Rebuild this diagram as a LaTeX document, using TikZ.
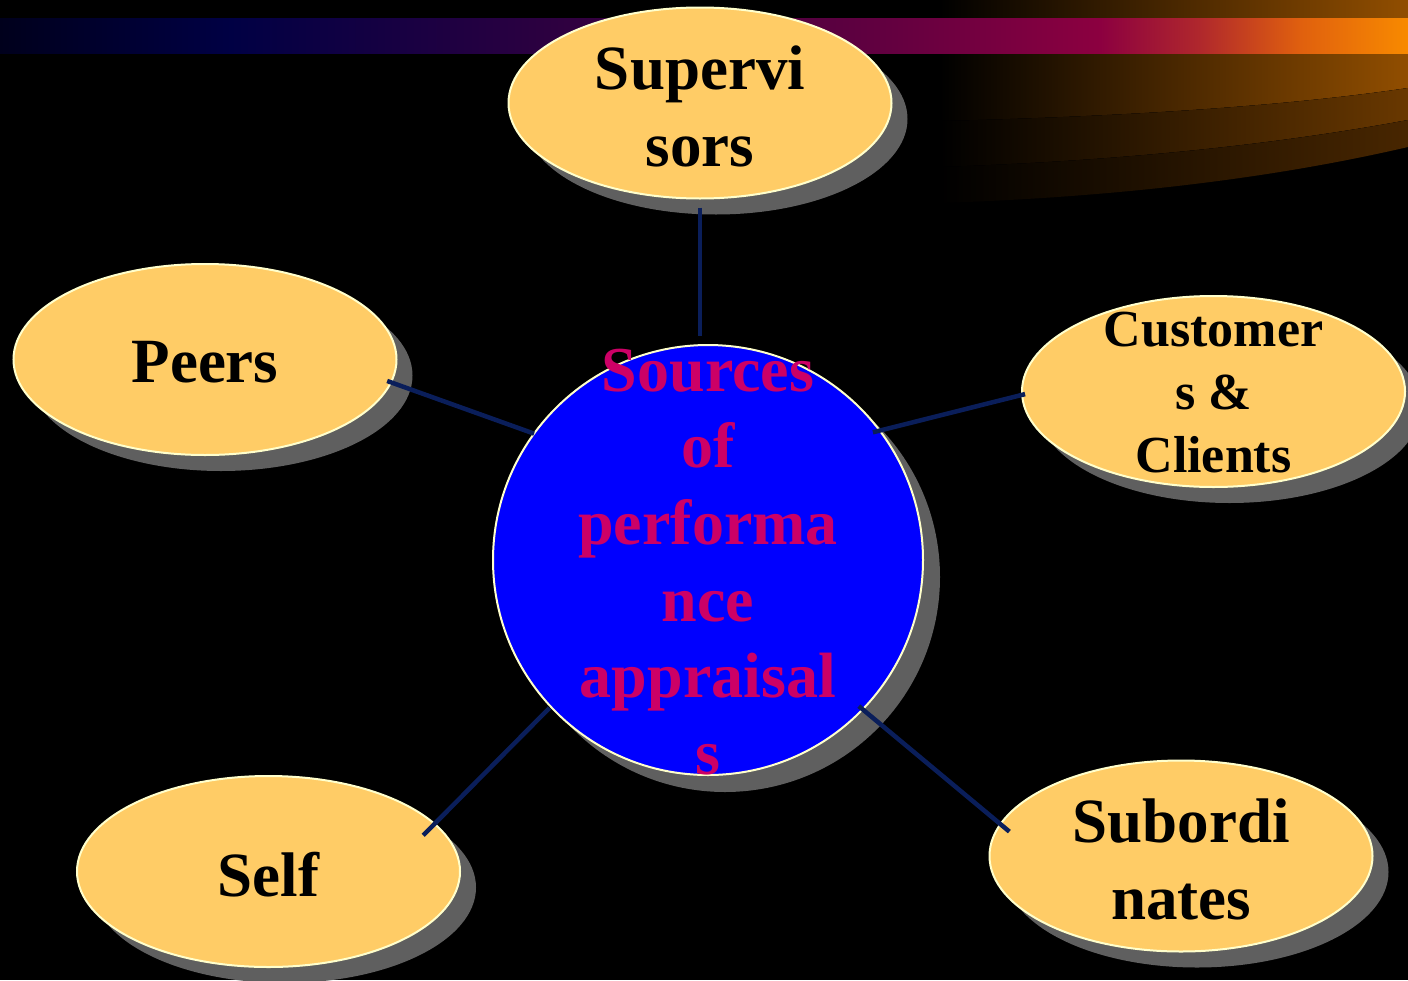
\documentclass[tikz,border=0pt]{standalone}
\usepackage{fontspec}
\setmainfont{Liberation Serif}
\usetikzlibrary{shapes.geometric,shadows}
\definecolor{ovalfill}{HTML}{FFCC66}
\definecolor{rim}{HTML}{FFFFCC}
\definecolor{shadowgray}{HTML}{5F5F5F}
\definecolor{linkc}{HTML}{0A1E5A}
\definecolor{hubfill}{HTML}{0000FF}
\definecolor{hubtext}{HTML}{CC0066}
\definecolor{bA}{HTML}{00001C}
\definecolor{bB}{HTML}{000044}
\definecolor{bC}{HTML}{2E0040}
\definecolor{bD}{HTML}{650040}
\definecolor{bE}{HTML}{8C0040}
\definecolor{bF}{HTML}{B0282C}
\definecolor{bG}{HTML}{E0600E}
\definecolor{bH}{HTML}{F88A00}
\definecolor{swA}{HTML}{914E00}
\definecolor{swB}{HTML}{693800}
\definecolor{swC}{HTML}{482600}
\begin{document}
\begin{tikzpicture}[x=1pt,y=-1pt,
  oval/.style={ellipse, minimum width=383pt, minimum height=191pt, inner sep=0pt, outer sep=0pt,
    fill=ovalfill, draw=rim, line width=2pt,
    drop shadow={shadow xshift=16pt, shadow yshift=-16pt, fill=shadowgray, opacity=1}},
  ovaltext/.style={font=\bfseries\fontsize{63}{77}\selectfont, align=center, text=black, yshift=-3pt},
  smalltext/.style={font=\bfseries\fontsize{52}{63}\selectfont, align=center, text=black, yshift=-1pt},
  hub/.style={circle, minimum size=430pt, inner sep=0pt, outer sep=0pt, fill=hubfill, draw=rim, line width=2pt,
    drop shadow={shadow xshift=17pt, shadow yshift=-17pt, fill=shadowgray, opacity=1}},
  hublabel/.style={font=\bfseries\fontsize{64}{76.6}\selectfont, align=center, text=hubtext},
  link/.style={draw=linkc, line width=4.5pt}]
\useasboundingbox (0,0) rectangle (1408,980);
\fill[black] (0,0) rectangle (1408,980);
% top-right swoosh
\fill[left color=black, right color=swA] (940,0) -- (1408,0) -- (1408,88) .. controls (1300,104) and (1150,116) .. (940,121) -- cycle;
\fill[left color=black, right color=swB] (940,121) .. controls (1150,116) and (1300,104) .. (1408,88) -- (1408,120) .. controls (1300,140) and (1150,160) .. (940,167) -- cycle;
\fill[left color=black, right color=swC] (940,167) .. controls (1150,160) and (1300,140) .. (1408,120) -- (1408,147) .. controls (1300,172) and (1150,196) .. (940,203) -- cycle;
% top bar
\fill[left color=bA, right color=bB] (0,18) rectangle (231,53);
\fill[left color=bB, right color=bC] (230,18) rectangle (561,53);
\fill[left color=bC, right color=bD] (560,18) rectangle (901,53);
\fill[left color=bD, right color=bE] (900,18) rectangle (1101,53);
\fill[left color=bE, right color=bF] (1100,18) rectangle (1201,53);
\fill[left color=bF, right color=bG] (1200,18) rectangle (1301,53);
\fill[left color=bG, right color=bH] (1300,18) rectangle (1408,53);
% nodes
\node[oval, label={[ovaltext]center:{Supervi\\sors}}] (sup) at (700,103) {};
\node[oval, label={[ovaltext]center:{Peers}}] (peer) at (205,359.5) {};
\node[oval, label={[smalltext]center:{Customer\\s \&\\Clients}}] (cust) at (1213.5,391.5) {};
\node[oval, label={[ovaltext]center:{Self}}] (self) at (268.5,871.5) {};
\node[oval, label={[ovaltext]center:{Subordi\\nates}}] (sub) at (1181,856) {};
\node[hub] (src) at (708,560) {};
% connectors
\draw[link, shorten <=9pt, shorten >=9pt] (sup.south) -- (sup.south |- src.north);
\draw[link, shorten <=-4pt] (peer.-7.4) -- (src.144);
\draw[link, shorten <=-7pt, shorten >=-3pt] (src.37) -- (cust.181.7);
\draw[link, shorten <=2pt, shorten >=-16pt] (src.223) -- (self.16.1);
\draw[link, shorten <=-5pt, shorten >=-11.6pt] (src.-44.6) -- (sub.170.7);
% hub text
\node[hublabel] (srctext) at (708,562) {Sources\\of\\performa\\nce\\appraisal\\s};
\end{tikzpicture}
\end{document}
